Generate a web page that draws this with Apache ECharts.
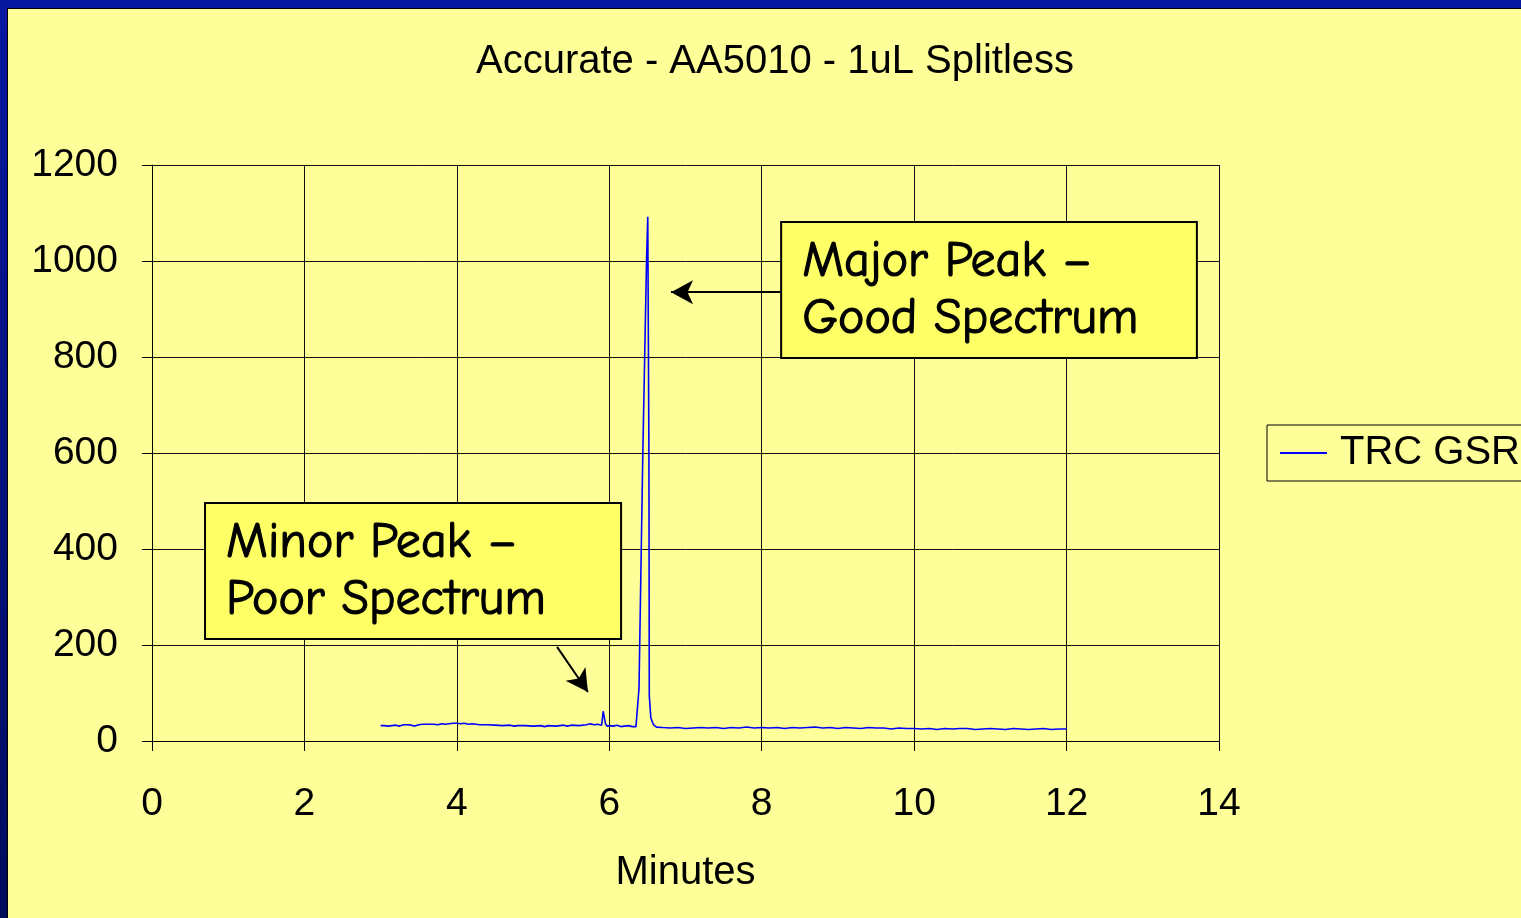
<!DOCTYPE html>
<html>
<head>
<meta charset="utf-8">
<script src="https://cdn.jsdelivr.net/npm/echarts@6/dist/echarts.min.js"></script>
<style>
html,body{margin:0;padding:0;background:#FFFF99;overflow:hidden;}
#chart{width:1521px;height:918px;}
</style>
</head>
<body>
<div id="chart"></div>
<script>
const chartTitle = 'Accurate - AA5010 - 1uL Splitless';
const xAxisName = 'Minutes';
const seriesName = 'TRC GSR';
const xTicks = [0, 2, 4, 6, 8, 10, 12, 14];
const yTicks = [0, 200, 400, 600, 800, 1000, 1200];

const minutes = [
  3.00, 3.05, 3.10, 3.15, 3.20, 3.25, 3.30, 3.35, 3.40, 3.45,
  3.50, 3.55, 3.60, 3.70, 3.75, 3.80, 3.85, 3.90, 3.95, 4.00,
  4.05, 4.10, 4.15, 4.20, 4.30, 4.40, 4.50, 4.60, 4.70, 4.75,
  4.80, 4.90, 5.00, 5.10, 5.15, 5.20, 5.30, 5.40, 5.45, 5.50,
  5.60, 5.70, 5.75, 5.80, 5.85, 5.90, 5.92, 5.95, 5.97, 6.00,
  6.05, 6.10, 6.15, 6.20, 6.25, 6.30, 6.35, 6.37, 6.39, 6.44,
  6.49, 6.505, 6.515, 6.52, 6.525, 6.545, 6.58, 6.62, 6.70, 6.80,
  6.90, 7.00, 7.10, 7.20, 7.30, 7.40, 7.50, 7.60, 7.70, 7.80,
  7.90, 8.00, 8.10, 8.20, 8.30, 8.40, 8.50, 8.60, 8.70, 8.80,
  8.90, 9.00, 9.10, 9.20, 9.30, 9.40, 9.50, 9.60, 9.70, 9.80,
  9.90, 10.00, 10.10, 10.20, 10.30, 10.40, 10.50, 10.60, 10.70, 10.80,
  10.90, 11.00, 11.10, 11.20, 11.30, 11.40, 11.50, 11.60, 11.70, 11.80,
  11.90, 12.00
];
const signal = [
  32, 32, 31, 32, 33, 31, 34, 34, 33, 31,
  34, 35, 35, 35, 34, 36, 35, 36, 37, 37,
  36, 37, 35, 36, 34, 34, 33, 32, 33, 31,
  32, 32, 31, 32, 30, 32, 31, 33, 31, 33,
  32, 34, 36, 34, 35, 33, 62, 36, 31, 32,
  31, 33, 30, 31, 32, 30, 30, 31, 110, 600,
  1010, 1092, 1092, 600, 94, 48, 34, 29, 28, 27,
  28, 26, 27, 28, 27, 28, 26, 28, 27, 29,
  27, 28, 27, 28, 26, 28, 27, 28, 29, 27,
  28, 26, 28, 27, 26, 28, 27, 27, 25, 27,
  26, 26, 25, 26, 24, 26, 25, 26, 26, 24,
  25, 26, 25, 24, 26, 25, 24, 25, 26, 24,
  25, 25
];

// annotation boxes and arrows (data coordinates)
const notes = [
  {text: 'Major Peak –\nGood Spectrum', box: [[8.255, 1081], [13.71, 798]], arrow: [[8.255, 935], [6.81, 935]]},
  {text: 'Minor Peak –\nPoor Spectrum', box: [[0.696, 496], [6.155, 212.5]], arrow: [[5.315, 196], [5.72, 102]]}
];

const FONT = 'Arial, "Liberation Sans", sans-serif';
const HAND = '"Comic Sans MS", "Comic Neue", cursive';

const chart = echarts.init(document.getElementById('chart'), null, {renderer: 'canvas'});
const points = minutes.map((m, i) => [m, signal[i]]);

chart.setOption({
  backgroundColor: '#FFFF99',
  animation: false,
  title: {
    text: chartTitle,
    left: 770,
    textAlign: 'center',
    top: 37,
    textStyle: {fontFamily: FONT, fontSize: 40, fontWeight: 'normal', color: '#000'}
  },
  grid: {left: 152, right: 302, top: 165, bottom: 177, containLabel: false},
  legend: {
    left: 1267,
    top: 425,
    orient: 'vertical',
    backgroundColor: '#FFFF99',
    borderColor: '#000',
    borderWidth: 1,
    borderRadius: 0,
    padding: [8, 200, 8, 13],
    itemWidth: 47,
    itemHeight: 2,
    data: [{name: seriesName, icon: 'rect'}],
    textStyle: {fontFamily: FONT, fontSize: 40, color: '#000', padding: [0, 0, 0, 8]}
  },
  xAxis: {
    type: 'value',
    min: 0, max: 14, interval: 2,
    name: xAxisName,
    nameLocation: 'middle',
    nameGap: 112,
    nameTextStyle: {fontFamily: FONT, fontSize: 40, color: '#000'},
    axisLine: {show: true, onZero: false, lineStyle: {color: '#000', width: 1}},
    axisTick: {show: true, length: 10, lineStyle: {color: '#000'}},
    axisLabel: {fontFamily: FONT, fontSize: 39, color: '#000', margin: 44,
      formatter: v => xTicks.includes(v) ? String(v) : ''},
    splitLine: {show: true, lineStyle: {color: '#111', width: 1}}
  },
  yAxis: {
    type: 'value',
    min: 0, max: 1200, interval: 200,
    axisLine: {show: true, lineStyle: {color: '#000', width: 1}},
    axisTick: {show: true, length: 10, lineStyle: {color: '#000'}},
    axisLabel: {fontFamily: FONT, fontSize: 39, color: '#000', margin: 34,
      formatter: v => yTicks.includes(v) ? String(v) : ''},
    splitLine: {show: true, lineStyle: {color: '#111', width: 1}}
  },
  graphic: [
    {type: 'rect', shape: {x: 0, y: 0, width: 1521, height: 8}, style: {fill: '#0818A0'}, z: 100},
    {type: 'rect', shape: {x: 0, y: 8, width: 1521, height: 1}, style: {fill: '#000'}, z: 100},
    {type: 'rect', shape: {x: 0, y: 0, width: 7, height: 918},
      style: {fill: new echarts.graphic.LinearGradient(0, 0, 0, 1, [
        {offset: 0, color: '#0818A0'}, {offset: 1, color: '#000C5C'}])}, z: 101},
    {type: 'rect', shape: {x: 7, y: 8, width: 1, height: 910}, style: {fill: '#000'}, z: 101}
  ],
  series: [{
    name: seriesName,
    type: 'line',
    data: points,
    showSymbol: false,
    symbol: 'none',
    lineStyle: {color: '#0000FF', width: 1.6},
    itemStyle: {color: '#0000FF'},
    z: 3,
    markArea: {
      silent: true,
      itemStyle: {color: '#FFFF66', borderColor: '#000', borderWidth: 2, opacity: 1},
      label: {
        show: true,
        position: 'insideLeft',
        distance: 22,
        fontFamily: HAND,
        fontSize: 50,
        fontWeight: 'normal',
        lineHeight: 57,
        color: '#000',
        textBorderColor: '#000',
        textBorderWidth: 1.2
      },
      data: notes.map(n => [
        {coord: n.box[0], name: n.text},
        {coord: n.box[1]}
      ])
    },
    markLine: {
      silent: true,
      symbol: ['none', 'arrow'],
      symbolSize: [18, 22],
      lineStyle: {color: '#000', width: 2, type: 'solid'},
      label: {show: false},
      data: notes.map(n => [
        {coord: n.arrow[0]},
        {coord: n.arrow[1]}
      ])
    }
  }]
});
</script>
</body>
</html>
